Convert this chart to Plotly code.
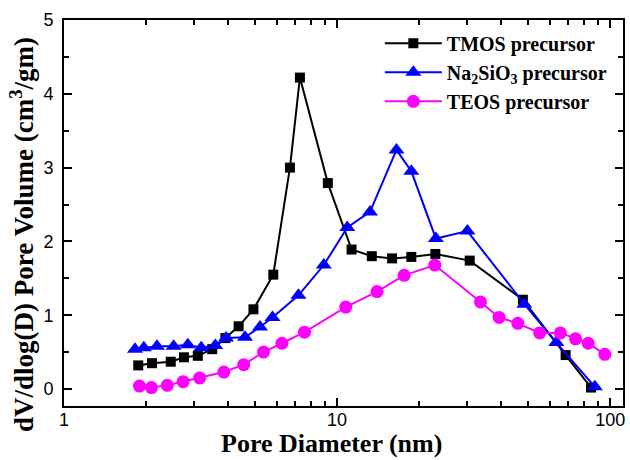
import plotly.graph_objects as go

tmos_x = [1.87, 2.10, 2.46, 2.75, 3.09, 3.49, 3.90, 4.36, 4.94, 5.84, 6.72, 7.31, 9.25, 11.3, 13.4, 15.9, 18.7, 22.9, 30.6, 47.9, 68.7, 85.1]
tmos_y = [0.32, 0.35, 0.37, 0.43, 0.45, 0.54, 0.69, 0.85, 1.08, 1.55, 3.00, 4.22, 2.79, 1.89, 1.80, 1.77, 1.79, 1.83, 1.74, 1.21, 0.46, 0.02]

na_x = [1.82, 1.96, 2.19, 2.52, 2.84, 3.18, 3.58, 3.92, 4.60, 5.22, 5.80, 7.22, 8.94, 10.9, 13.2, 16.5, 18.7, 23.0, 30.0, 48.5, 63.5, 87.9]
na_y = [0.54, 0.56, 0.58, 0.58, 0.60, 0.56, 0.59, 0.69, 0.70, 0.84, 0.97, 1.27, 1.68, 2.19, 2.40, 3.24, 2.95, 2.04, 2.14, 1.15, 0.63, 0.03]

teos_x = [1.89, 2.09, 2.39, 2.73, 3.14, 3.85, 4.55, 5.38, 6.28, 7.60, 10.76, 14.0, 17.6, 22.8, 33.5, 39.2, 45.9, 55.2, 65.7, 74.7, 83.1, 95.6]
teos_y = [0.04, 0.02, 0.05, 0.10, 0.15, 0.23, 0.33, 0.50, 0.62, 0.77, 1.11, 1.32, 1.54, 1.68, 1.18, 0.97, 0.89, 0.76, 0.76, 0.68, 0.62, 0.47]

x_tick_vals = [1, 10, 100]
x_tick_text = ["1", "10", "100"]
x_minor_vals = [2, 3, 4, 5, 6, 7, 8, 9, 20, 30, 40, 50, 60, 70, 80, 90]

names = ["TMOS precursor", "Na<sub>2</sub>SiO<sub>3</sub> precursor", "TEOS precursor"]
x_title = "Pore Diameter (nm)"
y_title = "dV/dlog(D) Pore Volume (cm<sup>3</sup>/gm)"

fig = go.Figure()
fig.add_trace(go.Scatter(x=tmos_x, y=tmos_y, mode="lines+markers", name=names[0],
                         line=dict(color="black", width=2),
                         marker=dict(symbol="square", size=10, color="black")))
fig.add_trace(go.Scatter(x=na_x, y=na_y, mode="lines+markers", name=names[1],
                         line=dict(color="#0000ff", width=2),
                         marker=dict(symbol="triangle-up", size=14, color="#0000ff")))
fig.add_trace(go.Scatter(x=teos_x, y=teos_y, mode="lines+markers", name=names[2],
                         line=dict(color="#ff00ff", width=2),
                         marker=dict(symbol="circle", size=13, color="#ff00ff")))

axis_common = dict(showline=True, linecolor="black", linewidth=2, mirror="ticks",
                   ticks="inside", tickcolor="black", tickwidth=1.5, showgrid=False,
                   zeroline=False, tickfont=dict(family="Liberation Sans", size=18, color="black"))

fig.update_xaxes(type="log", range=[0, 2.047], tickvals=x_tick_vals, ticktext=x_tick_text,
                 ticklen=8, ticklabelstandoff=-4,
                 minor=dict(ticks="inside", ticklen=5, tickvals=x_minor_vals,
                            tickcolor="black", tickwidth=1.5, showgrid=False),
                 **axis_common)
fig.update_yaxes(range=[-0.23, 5], dtick=1, tick0=0, ticklen=8, ticklabelstandoff=5,
                 minor=dict(ticks="inside", ticklen=5, dtick=0.5, tickcolor="black", tickwidth=1.5, showgrid=False),
                 **axis_common)

fig.add_annotation(text=x_title, xref="paper", yref="paper", x=0.478, y=-0.098,
                   xanchor="center", yanchor="middle", showarrow=False,
                   font=dict(family="Liberation Serif", size=26, color="black", weight="bold"))
fig.add_annotation(text=y_title, xref="paper", yref="paper", x=-0.075, y=0.443,
                   xanchor="center", yanchor="middle", showarrow=False, textangle=-90,
                   font=dict(family="Liberation Serif", size=27, color="black", weight="bold"))

fig.update_layout(width=630, height=460, margin=dict(l=64, r=5, t=20, b=54),
                  plot_bgcolor="white", paper_bgcolor="white",
                  legend=dict(x=0.565, y=0.99, xanchor="left", yanchor="top", bgcolor="rgba(0,0,0,0)",
                              font=dict(family="Liberation Serif", size=20, color="black", weight="bold"),
                              itemwidth=57, tracegroupgap=0))

fig.write_html("out.html")
